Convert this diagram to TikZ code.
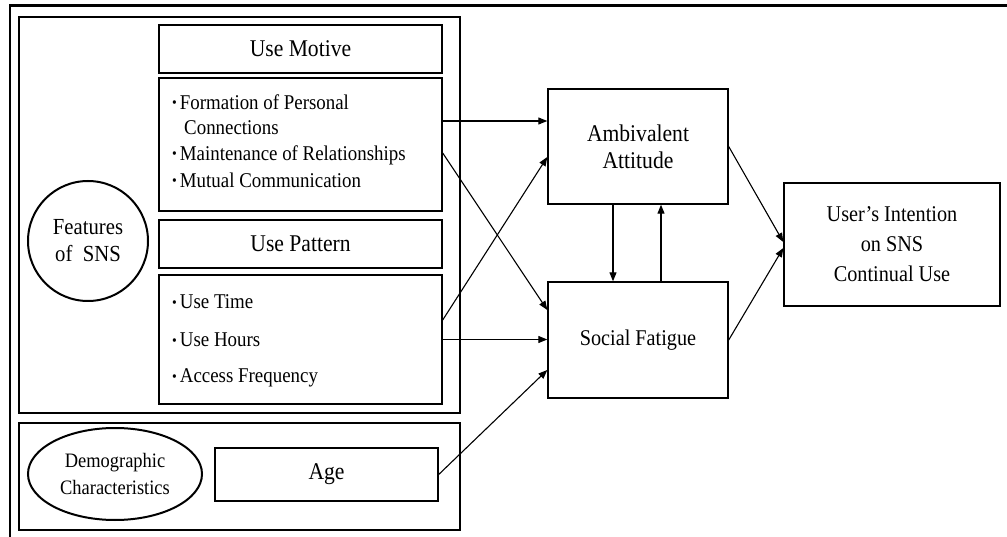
\documentclass[tikz,border=0pt]{standalone}
\usepackage{fontspec}
\setmainfont{Liberation Serif}[FakeStretch=0.9]
\usetikzlibrary{arrows.meta,shapes.geometric}
\newcommand{\bul}{\raisebox{0.15ex}{\fontsize{15}{15}\selectfont •}\hspace{3pt}}
\begin{document}
\begin{tikzpicture}[x=1pt,y=-1pt,
  box/.style={draw,line width=1.4pt,rectangle,inner sep=0pt},
  ttl/.style={font=\fontsize{24}{28}\selectfont},
  itm/.style={anchor=west,inner sep=0pt,font=\fontsize{21}{24}\selectfont},
  arr/.style={line width=1.1pt,-{Triangle[length=9pt,width=7pt]}}]
\useasboundingbox (0,0) rectangle (1007,537);
% outer frame
\draw[line width=2.5pt] (10,537) -- (10,5.5) -- (1007,5.5);
% features group
\node[box,minimum width=441pt,minimum height=396pt] (feat) at (239.5,215) {};
\node[box,minimum width=283pt,minimum height=48pt,ttl] (mtitle) at (300.5,49) {Use Motive};
\node[box,minimum width=283pt,minimum height=133pt] (mlist) at (300.5,144.5) {};
\node[box,minimum width=283pt,minimum height=48pt,ttl] (ptitle) at (300.5,244) {Use Pattern};
\node[box,minimum width=283pt,minimum height=129pt] (plist) at (300.5,339.5) {};
\node[draw,circle,line width=2pt,minimum size=120pt,inner sep=0pt,align=center,font=\fontsize{23}{27}\selectfont] (sns) at (88,241) {Features\\of\ \ SNS};
% list texts
\node[itm] (m1) at (172,102) {\bul Formation of Personal};
\node[itm] (m1b) at (184,128) {Connections};
\node[itm] (m2) at (172,155) {\bul Maintenance of Relationships};
\node[itm] (m3) at (172,180) {\bul Mutual Communication};
\node[itm] (p1) at (172,302) {\bul Use Time};
\node[itm] (p2) at (172,340) {\bul Use Hours};
\node[itm] (p3) at (172,378) {\bul Access Frequency};
% demographic group
\node[box,minimum width=441pt,minimum height=107pt] (demo) at (239.5,476.5) {};
\node[draw,ellipse,line width=2pt,minimum width=174pt,minimum height=92pt,inner sep=0pt,align=center,font=\fontsize{20.5}{27}\selectfont] (dem) at (115,474) {Demographic\\Characteristics};
\node[box,minimum width=223pt,minimum height=53pt,ttl] (age) at (326.5,474.5) {Age};
% right side
\node[box,minimum width=180pt,minimum height=115pt,align=center,font=\fontsize{24}{27}\selectfont] (amb) at (638,146.5) {Ambivalent\\Attitude};
\node[box,minimum width=180pt,minimum height=116pt,font=\fontsize{22.5}{27}\selectfont] (sf) at (638,340) {Social Fatigue};
\node[box,minimum width=216pt,minimum height=123pt,align=center,font=\fontsize{22.5}{30}\selectfont] (user) at (892,244.5) {User's Intention\\on SNS\\Continual Use};
% arrows
\draw[arr] ([yshift=23.5pt]mlist.east) -- ([yshift=23.5pt]mlist.east -| amb.west);
\draw[arr] ([yshift=-8.5pt]mlist.east) -- ([yshift=30pt]sf.west);
\draw[arr] ([yshift=19.5pt]plist.east) -- ([yshift=-10.5pt]amb.west);
\draw[arr] (plist.east) -- (plist.east -| sf.west);
\draw[arr] (age.east) -- ([yshift=-30pt]sf.west);
\draw[arr] ([xshift=-25pt]amb.south) -- ([xshift=-25pt]sf.north);
\draw[arr] ([xshift=23pt]sf.north) -- ([xshift=23pt]amb.south);
\draw[arr] (amb.east) -- ([yshift=2.5pt]user.west);
\draw[arr] (sf.east) -- ([yshift=-3.5pt]user.west);
\end{tikzpicture}
\end{document}
